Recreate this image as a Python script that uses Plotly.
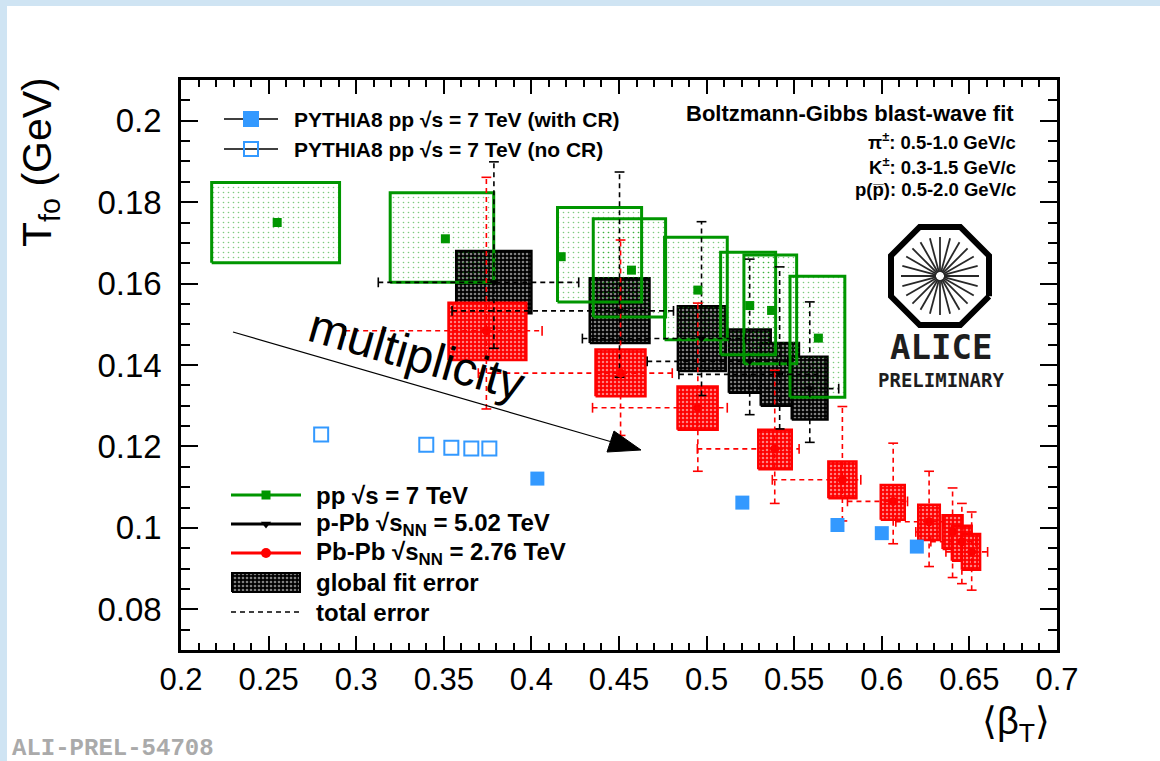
import math
import plotly.graph_objects as go

W, H = 1160, 761
FX0, FX1, FY0, FY1 = 181, 1057, 80, 650  # frame in pixels
XR = (0.2, 0.7)
YR = (0.07, 0.21)

# ---------------- data ----------------
# pp sqrt(s)=7 TeV  (green)
pp_beta = [0.2549, 0.3509, 0.4170, 0.4571, 0.4950, 0.5246, 0.5371, 0.5638]
pp_T = [0.1750, 0.1710, 0.1666, 0.1633, 0.1584, 0.1546, 0.1534, 0.1466]
pp_box_beta_lo = [0.2175, 0.3194, 0.4149, 0.4353, 0.4760, 0.5080, 0.5213, 0.5476]
pp_box_beta_hi = [0.2905, 0.3785, 0.4629, 0.4766, 0.5118, 0.5394, 0.5514, 0.5789]
pp_box_T_lo = [0.1651, 0.1603, 0.1555, 0.1518, 0.1462, 0.1425, 0.1403, 0.1321]
pp_box_T_hi = [0.1848, 0.1823, 0.1787, 0.1759, 0.1714, 0.1677, 0.1670, 0.1618]

# p-Pb sqrt(sNN)=5.02 TeV (black)
ppb_beta = [0.3786, 0.4503, 0.4971, 0.5246, 0.5417, 0.5589]
ppb_T = [0.1603, 0.1533, 0.1465, 0.1409, 0.1377, 0.1342]
ppb_box_beta_lo = [0.3571, 0.4333, 0.4836, 0.5127, 0.5309, 0.5486]
ppb_box_beta_hi = [0.4000, 0.4674, 0.5109, 0.5366, 0.5527, 0.5690]
ppb_box_T_lo = [0.1527, 0.1454, 0.1385, 0.1332, 0.1300, 0.1266]
ppb_box_T_hi = [0.1680, 0.1613, 0.1544, 0.1487, 0.1454, 0.1420]
ppb_tot_T_lo = [0.1441, 0.1370, 0.1325, 0.1278, 0.1243, 0.1210]
ppb_tot_T_hi = [0.1899, 0.1874, 0.1752, 0.1660, 0.1641, 0.1555]
ppb_tot_beta_lo = [0.3126, 0.3547, 0.4291, 0.4661, 0.4842, 0.5131]
ppb_tot_beta_hi = [0.4270, 0.4811, 0.5223, 0.5463, 0.5634, 0.5754]

# Pb-Pb sqrt(sNN)=2.76 TeV (red)
pbpb_beta = [0.3743, 0.4509, 0.4950, 0.5389, 0.5775, 0.6065, 0.6270, 0.6404, 0.6457, 0.6513]
pbpb_T = [0.1484, 0.1380, 0.1295, 0.1194, 0.1118, 0.1065, 0.1015, 0.0990, 0.0966, 0.0941]
pbpb_box_beta_lo = [0.3527, 0.4366, 0.4834, 0.5295, 0.5695, 0.5994, 0.6208, 0.6347, 0.6400, 0.6457]
pbpb_box_beta_hi = [0.3971, 0.4651, 0.5063, 0.5486, 0.5855, 0.6131, 0.6331, 0.6461, 0.6513, 0.6561]
pbpb_box_T_lo = [0.1412, 0.1323, 0.1241, 0.1144, 0.1073, 0.1020, 0.0970, 0.0948, 0.0919, 0.0897]
pbpb_box_T_hi = [0.1553, 0.1438, 0.1347, 0.1241, 0.1163, 0.1105, 0.1057, 0.1031, 0.1005, 0.0985]
pbpb_tot_T_lo = [0.1292, 0.1227, 0.1139, 0.1060, 0.1017, 0.0961, 0.0905, 0.0878, 0.0863, 0.0847]
pbpb_tot_T_hi = [0.1861, 0.1707, 0.1552, 0.1387, 0.1298, 0.1208, 0.1139, 0.1098, 0.1060, 0.1039]
pbpb_tot_beta_lo = [0.2937, 0.3697, 0.4349, 0.4947, 0.5375, 0.5804, 0.6080, 0.6194, 0.6280, 0.6366]
pbpb_tot_beta_hi = [0.4061, 0.4804, 0.5118, 0.5528, 0.5880, 0.6147, 0.6354, 0.6463, 0.6537, 0.6604]

# PYTHIA8 pp 7 TeV
py_cr_beta = [0.4034, 0.5204, 0.5747, 0.6000, 0.6200]
py_cr_T = [0.1121, 0.1062, 0.1007, 0.0987, 0.0954]
py_nocr_beta = [0.2800, 0.3400, 0.3543, 0.3657, 0.3760]
py_nocr_T = [0.1229, 0.1204, 0.1197, 0.1195, 0.1195]

x_ticks = [0.2, 0.25, 0.3, 0.35, 0.4, 0.45, 0.5, 0.55, 0.6, 0.65, 0.7]
y_ticks = [0.08, 0.1, 0.12, 0.14, 0.16, 0.18, 0.2]

# ---------------- styles ----------------
GREEN = "rgb(0,150,0)"
RED = "rgb(255,0,0)"
BLUE = "rgb(51,153,255)"
FONT = "Liberation Sans, Arial, sans-serif"

fig = go.Figure()


# pixel -> data helpers for decorations (legend swatches, logo, arrow) inside the frame
def dx(px):
    return XR[0] + (px - FX0) * (XR[1] - XR[0]) / (FX1 - FX0)


def dy(py):
    return YR[1] - (py - FY0) * (YR[1] - YR[0]) / (FY1 - FY0)


def add_box(xlo, xhi, ylo, yhi, line_color, lw, pattern, fillcolor):
    fig.add_trace(go.Scatter(
        x=[xlo, xhi, xhi, xlo, xlo], y=[ylo, ylo, yhi, yhi, ylo],
        mode="lines", fill="toself", fillcolor=fillcolor, fillpattern=pattern,
        line=dict(color=line_color, width=lw), showlegend=False, hoverinfo="skip"))


BLACK_PAT = dict(shape=".", fgcolor="white", bgcolor="black", size=4, solidity=0.35)
RED_PAT = dict(shape=".", fgcolor="white", bgcolor=RED, size=4, solidity=0.3)
GREEN_PAT = dict(shape=".", fgcolor=GREEN, bgcolor="rgba(0,0,0,0)", size=5, solidity=0.08)

# boxes: p-Pb, Pb-Pb, pp
for i in range(len(ppb_beta)):
    add_box(ppb_box_beta_lo[i], ppb_box_beta_hi[i], ppb_box_T_lo[i], ppb_box_T_hi[i],
            "black", 2.5, BLACK_PAT, "black")
for i in range(len(pbpb_beta)):
    add_box(pbpb_box_beta_lo[i], pbpb_box_beta_hi[i], pbpb_box_T_lo[i], pbpb_box_T_hi[i],
            RED, 2.5, RED_PAT, RED)
for i in range(len(pp_beta)):
    add_box(pp_box_beta_lo[i], pp_box_beta_hi[i], pp_box_T_lo[i], pp_box_T_hi[i],
            GREEN, 3, GREEN_PAT, "rgba(0,0,0,0)")


def add_total_errors(bx, ty, blo, bhi, tlo, thi, color):
    xs, ys = [], []
    for i in range(len(bx)):
        xs += [bx[i], bx[i], None, blo[i], bhi[i], None]
        ys += [tlo[i], thi[i], None, ty[i], ty[i], None]
    fig.add_trace(go.Scatter(x=xs, y=ys, mode="lines",
                             line=dict(color=color, width=1.6, dash="5px,4px"),
                             showlegend=False, hoverinfo="skip"))
    fig.add_trace(go.Scatter(x=list(bx) + list(bx), y=list(tlo) + list(thi), mode="markers",
                             marker=dict(symbol="line-ew", size=7, line=dict(color=color, width=1.6)),
                             showlegend=False, hoverinfo="skip"))
    fig.add_trace(go.Scatter(x=list(blo) + list(bhi), y=list(ty) + list(ty), mode="markers",
                             marker=dict(symbol="line-ns", size=7, line=dict(color=color, width=1.6)),
                             showlegend=False, hoverinfo="skip"))


add_total_errors(ppb_beta, ppb_T, ppb_tot_beta_lo, ppb_tot_beta_hi, ppb_tot_T_lo, ppb_tot_T_hi, "black")
add_total_errors(pbpb_beta, pbpb_T, pbpb_tot_beta_lo, pbpb_tot_beta_hi, pbpb_tot_T_lo, pbpb_tot_T_hi, RED)

# data points
fig.add_trace(go.Scatter(x=pp_beta, y=pp_T, mode="markers",
                         marker=dict(symbol="square", size=9, color=GREEN),
                         showlegend=False, hoverinfo="skip"))
fig.add_trace(go.Scatter(x=ppb_beta, y=ppb_T, mode="markers",
                         marker=dict(symbol="triangle-down", size=8, color="black"),
                         showlegend=False, hoverinfo="skip"))
fig.add_trace(go.Scatter(x=pbpb_beta, y=pbpb_T, mode="markers",
                         marker=dict(symbol="circle", size=9, color=RED),
                         showlegend=False, hoverinfo="skip"))
fig.add_trace(go.Scatter(x=py_cr_beta, y=py_cr_T, mode="markers",
                         marker=dict(symbol="square", size=14, color=BLUE),
                         showlegend=False, hoverinfo="skip"))
fig.add_trace(go.Scatter(x=py_nocr_beta, y=py_nocr_T, mode="markers",
                         marker=dict(symbol="square-open", size=14, color=BLUE, line=dict(width=2)),
                         showlegend=False, hoverinfo="skip"))


# ---------------- decorations positioned in pixels ----------------
def seg(xs, ys, **kw):
    fig.add_trace(go.Scatter(x=[None if v is None else dx(v) for v in xs],
                             y=[None if v is None else dy(v) for v in ys],
                             mode="lines", showlegend=False, hoverinfo="skip", **kw))


def mark(x, y, **kw):
    fig.add_trace(go.Scatter(x=[dx(x)], y=[dy(y)], mode="markers",
                             showlegend=False, hoverinfo="skip", **kw))


# top legend (PYTHIA8)
top_rows = [119, 149]
for yy, sym in zip(top_rows, ["square", "square-open"]):
    seg([224, 278], [yy, yy], line=dict(color="black", width=1.5))
    mark(251, yy, marker=dict(symbol=sym, size=14, color=BLUE, line=dict(width=2, color=BLUE)))
top_texts = ["<b>PYTHIA8 pp √s = 7 TeV (with CR)</b>", "<b>PYTHIA8 pp √s = 7 TeV (no CR)</b>"]

# bottom legend
bot_rows = [495, 524, 553, 582, 612]
seg([231, 301], [495, 495], line=dict(color=GREEN, width=3))
mark(266, 495, marker=dict(symbol="square", size=9, color=GREEN))
seg([231, 301], [524, 524], line=dict(color="black", width=3))
mark(266, 524, marker=dict(symbol="triangle-down", size=9, color="black"))
seg([231, 301], [553, 553], line=dict(color=RED, width=3))
mark(266, 553, marker=dict(symbol="circle", size=10, color=RED))
add_box(dx(232), dx(300), dy(592), dy(573), "black", 2, BLACK_PAT, "black")
seg([231, 301], [612, 612], line=dict(color="black", width=1.6, dash="5px,4px"))
bot_texts = ["<b>pp √s = 7 TeV</b>",
             "<b>p-Pb √s<sub>NN</sub> = 5.02 TeV</b>",
             "<b>Pb-Pb √s<sub>NN</sub> = 2.76 TeV</b>",
             "<b>global fit error</b>",
             "<b>total error</b>"]

# multiplicity arrow
seg([233, 612], [332, 442], line=dict(color="black", width=1.2))
fig.add_trace(go.Scatter(x=[dx(v) for v in [641, 614, 607, 641]], y=[dy(v) for v in [450, 431, 452, 450]],
                         mode="lines", fill="toself", fillcolor="black",
                         line=dict(color="black", width=1), showlegend=False, hoverinfo="skip"))

# ALICE logo: octagon + spokes
cx, cy = 940, 276
R = 49 / math.cos(math.pi / 8)
ox = [cx + R * math.cos(math.pi / 8 + k * math.pi / 4) for k in range(9)]
oy = [cy + R * math.sin(math.pi / 8 + k * math.pi / 4) for k in range(9)]
seg(ox, oy, line=dict(color="black", width=6))
sx, sy = [], []
for k in range(24):
    a = k * math.pi / 12
    sx += [cx + 4 * math.cos(a), cx + 39 * math.cos(a), None]
    sy += [cy + 4 * math.sin(a), cy + 39 * math.sin(a), None]
seg(sx, sy, line=dict(color="rgb(40,40,40)", width=1.8))

# ---------------- annotations ----------------
ann = []


def text(x, y, s, size, xanchor="left", yanchor="middle", family=FONT, color="black", angle=0):
    ann.append(dict(x=x / W, y=1 - y / H, xref="paper", yref="paper", text=s, showarrow=False,
                    xanchor=xanchor, yanchor=yanchor, textangle=angle,
                    font=dict(family=family, size=size, color=color)))


for yy, s in zip(top_rows, top_texts):
    text(292, yy, s, 21)
for yy, s in zip(bot_rows, bot_texts):
    text(314, yy, s, 24)

text(1016, 113, "<b>Boltzmann-Gibbs blast-wave fit</b>", 22, xanchor="right")
text(1018, 141, "<b>π<sup>±</sup>: 0.5-1.0 GeV/c</b>", 18.5, xanchor="right")
text(1018, 166, "<b>K<sup>±</sup>: 0.3-1.5 GeV/c</b>", 18.5, xanchor="right")
text(1018, 189, "<b>p(p\u0305): 0.5-2.0 GeV/c</b>", 18.5, xanchor="right")

text(941, 347, "<b>ALICE</b>", 34, xanchor="center", family="DejaVu Sans Mono, monospace", color="rgb(30,30,30)")
text(941, 380, "<b>PRELIMINARY</b>", 19, xanchor="center", family="DejaVu Sans Mono, monospace", color="rgb(30,30,30)")

text(416, 355, "multiplicity", 48, xanchor="center", angle=16)

text(40, 75, "T<sub>fo</sub> (GeV)", 41, xanchor="center", yanchor="top", angle=-90)
text(1052, 724, "⟨β<sub>T</sub>⟩", 38, xanchor="right")
text(10, 748, "<b>ALI-PREL-54708</b>", 24, family="Liberation Mono, Courier New, monospace",
     color="rgb(170,170,170)")

# light-blue frame strips
shapes = [
    dict(type="rect", xref="paper", yref="paper", x0=0, x1=7 / W, y0=0, y1=1,
         fillcolor="rgb(207,228,243)", line=dict(width=0), layer="below"),
    dict(type="rect", xref="paper", yref="paper", x0=0, x1=1, y0=1 - 6 / H, y1=1,
         fillcolor="rgb(207,228,243)", line=dict(width=0), layer="below"),
]

axis_common = dict(showgrid=False, zeroline=False, showline=True, linecolor="black", linewidth=2.5,
                   mirror="ticks", ticks="inside", tickcolor="black", tickwidth=1.5, automargin=False)

fig.update_layout(
    width=W, height=H, margin=dict(l=0, r=0, t=0, b=0, pad=0, autoexpand=False),
    paper_bgcolor="white", plot_bgcolor="white",
    showlegend=False, annotations=ann, shapes=shapes,
    xaxis=dict(domain=[FX0 / W, FX1 / W], range=list(XR), tickvals=x_ticks,
               ticktext=[f"{v:g}" for v in x_ticks], ticklen=14,
               minor=dict(dtick=0.01, tick0=0.2, ticks="inside", ticklen=7, tickcolor="black", tickwidth=1.5),
               tickfont=dict(family="Liberation Sans Narrow, Liberation Sans, Arial", size=31, color="black"),
               ticklabelstandoff=0, **axis_common),
    yaxis=dict(domain=[1 - FY1 / H, 1 - FY0 / H], range=list(YR), tickvals=y_ticks,
               ticktext=[f"{v:g}" for v in y_ticks], ticklen=17,
               minor=dict(dtick=0.005, tick0=0.07, ticks="inside", ticklen=9, tickcolor="black", tickwidth=1.5),
               tickfont=dict(family=FONT, size=33, color="black"),
               ticklabelstandoff=10, **axis_common),
)

fig.write_html("out.html")
